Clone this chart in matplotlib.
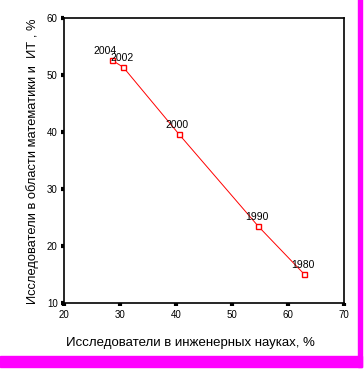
import matplotlib
matplotlib.use("Agg")
import matplotlib.pyplot as plt
from matplotlib.patches import Rectangle

# Data
years = ["1980", "1990", "2000", "2002", "2004"]
engineering_pct = [62.9, 54.7, 40.5, 30.6, 28.5]
math_it_pct = [15.1, 23.5, 39.7, 51.4, 52.7]

x_ticks = [20, 30, 40, 50, 60, 70]
y_ticks = [10, 20, 30, 40, 50, 60]

plt.rcParams["font.family"] = ["Liberation Sans", "DejaVu Sans"]

W, H = 364, 371
fig = plt.figure(figsize=(W / 100, H / 100), dpi=100)
ax = fig.add_axes([64 / W, 1 - 303.3 / H, 280 / W, 285 / H])

ax.plot(engineering_pct, math_it_pct, color="red", linewidth=0.7,
        marker="s", markersize=3.6, markerfacecolor="white",
        markeredgecolor="red", markeredgewidth=1.0)

# label for 2004 sits a little to the left in the original
label_dx = {"2004": -5}
for yr, x, y in zip(years, engineering_pct, math_it_pct):
    ax.annotate(yr, (x, y), xytext=(label_dx.get(yr, -1), 3),
                textcoords="offset points", ha="center", va="bottom",
                fontsize=7.5, color="black")

ax.set_xlim(20, 70)
ax.set_ylim(10, 60)
ax.set_xticks(x_ticks)
ax.set_yticks(y_ticks)
ax.tick_params(direction="out", length=2.5, width=3, labelsize=7, pad=2)
for s in ax.spines.values():
    s.set_linewidth(1.2)

ax.set_xlabel("Исследователи в инженерных науках, %", fontsize=9.5)
ax.xaxis.set_label_coords(0.45, -0.118)
ax.set_ylabel("Исследователи в области математики и  ИТ , %", fontsize=9.3, labelpad=6)

# magenta frame pieces at bottom and right edge
fig.patches.append(Rectangle((0, 4 / H), 362 / W, 11 / H, transform=fig.transFigure,
                             color="#ff00ff", zorder=-1))
fig.patches.append(Rectangle((358 / W, 4 / H), 4 / W, 1, transform=fig.transFigure,
                             color="#ff00ff", zorder=-1))

fig.savefig("out.png", dpi=100)
